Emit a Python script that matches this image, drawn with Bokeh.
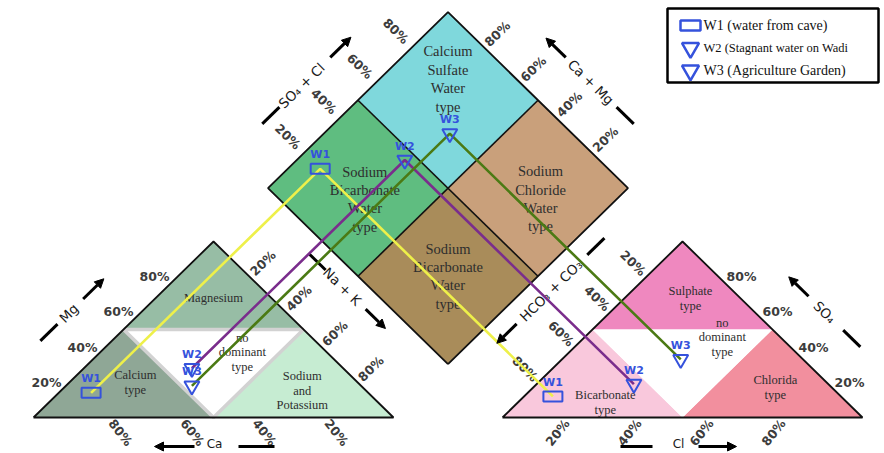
import math
from bokeh.plotting import figure
from bokeh.models import Range1d, Arrow, NormalHead, ColumnDataSource
from bokeh.core.properties import value
from bokeh.embed import file_html
from bokeh.resources import INLINE

# ---------------- data (percent of meq/L) ----------------
samples = ["W1", "W2", "W3"]
legend_text = ["W1 (water from cave)", "W2 (Stagnant water on Wadi", "W3 (Agriculture Garden)"]
sample_marker = ["rect", "inverted_triangle", "inverted_triangle"]
line_colors = ["#eef04a", "#7a2d8c", "#4b7a14"]

ca_pct = [77, 42, 47]
mg_pct = [14, 28, 18]
nak_pct = [9, 30, 35]
hco3_pct = [80, 54, 34]
so4_pct = [12, 19, 33]
cl_pct = [8, 27, 33]

tick_vals = [20, 40, 60, 80]
tick_labels = ["20%", "40%", "60%", "80%"]

cation_facies = ["Magnesium", "Calcium\ntype", "no\ndominant\ntype", "Sodium\nand\nPotassium"]
anion_facies = ["Sulphate\ntype", "no\ndominant\ntype", "Chlorida\ntype", "Bicarbonate\ntype"]
diamond_facies = ["Calcium\nSulfate\nWater\ntype", "Sodium\nBicarbonate\nWater\ntype",
                  "Sodium\nChloride\nWater\ntype", "Sodium\nBicarbonate\nWater\ntype"]

# ---------------- layout ----------------
X0L, X0R, BASE, W, H = 33.0, 502.0, 417.0, 360.0, 176.0
GAP = X0R - (X0L + W)
BX = X0L + W + GAP / 2
BY = BASE + H - (BX - X0L - W / 2) * H / (W / 2)
ANG = math.atan2(H, W / 2)

def cat_xy(c, m, n):
    t = c + m + n
    m, n = m / t, n / t
    return X0L + W * (n + m / 2), BASE - H * m

def an_xy(h, s, c):
    t = h + s + c
    s, c = s / t, c / t
    return X0R + W * (c + s / 2), BASE - H * s

def dia_xy(s, t):  # s = Ca+Mg fraction, t = SO4+Cl fraction
    return BX + (W / 2) * (t - s), BY - H * (s + t)

A_L, T_L, C_L = cat_xy(1, 0, 0), cat_xy(0, 1, 0), cat_xy(0, 0, 1)
A_R, T_R, C_R = an_xy(1, 0, 0), an_xy(0, 1, 0), an_xy(0, 0, 1)
D_B, D_L, D_T, D_R = dia_xy(0, 0), dia_xy(1, 0), dia_xy(1, 1), dia_xy(0, 1)

def edge_pt(P0, P1, f, dn):
    dx, dy = P1[0] - P0[0], P1[1] - P0[1]
    L = math.hypot(dx, dy)
    ux, uy = dx / L, dy / L
    return P0[0] + f * dx + dn * uy, P0[1] + f * dy - dn * ux

p = figure(width=884, height=453, x_range=Range1d(0, 884), y_range=Range1d(453, 0),
           output_backend="svg", toolbar_location=None, min_border=0)
p.axis.visible = False
p.grid.visible = False
p.outline_line_color = None
p.background_fill_color = "white"
p.border_fill_color = "white"

def patch(points, fn, color):
    xy = [fn(*q) for q in points]
    p.patch([a for a, b in xy], [b for a, b in xy], fill_color=color, line_color=None)

# cation triangle regions (Ca, Mg, Na)
patch([(0.5, 0.5, 0), (0, 1, 0), (0, 0.5, 0.5)], cat_xy, "#97bda5")
patch([(1, 0, 0), (0.5, 0, 0.5), (0.5, 0.5, 0)], cat_xy, "#8fa796")
patch([(0, 0, 1), (0, 0.5, 0.5), (0.5, 0, 0.5)], cat_xy, "#c6ecd2")
patch([(0.5, 0.5, 0), (0, 0.5, 0.5), (0.5, 0, 0.5)], cat_xy, "#ffffff")
mid = [cat_xy(*q) for q in [(0.5, 0.5, 0), (0, 0.5, 0.5), (0.5, 0, 0.5), (0.5, 0.5, 0)]]
p.line([a for a, b in mid], [b for a, b in mid], line_color="#d2d2d2", line_width=3.5)

# anion triangle regions (HCO3, SO4, Cl)
patch([(0.5, 0.5, 0), (0, 1, 0), (0, 0.5, 0.5)], an_xy, "#ef88bf")
patch([(1, 0, 0), (0.5, 0, 0.5), (0.5, 0.5, 0)], an_xy, "#f9c8dc")
patch([(0, 0, 1), (0, 0.5, 0.5), (0.5, 0, 0.5)], an_xy, "#f28f9e")
patch([(0.5, 0.5, 0), (0, 0.5, 0.5), (0.5, 0, 0.5)], an_xy, "#ffffff")

# diamond quadrants (s, t)
patch([(0.5, 0.5), (1, 0.5), (1, 1), (0.5, 1)], dia_xy, "#7fd8dc")
patch([(0.5, 0), (1, 0), (1, 0.5), (0.5, 0.5)], dia_xy, "#5fbd80")
patch([(0, 0.5), (0.5, 0.5), (0.5, 1), (0, 1)], dia_xy, "#c9a07b")
patch([(0, 0), (0.5, 0), (0.5, 0.5), (0, 0.5)], dia_xy, "#a98c5a")

# outlines
for pts in ([A_L, T_L, C_L, A_L], [A_R, T_R, C_R, A_R], [D_B, D_L, D_T, D_R, D_B]):
    p.line([a for a, b in pts], [b for a, b in pts], line_color="#111111", line_width=1.8)
for seg in ([dia_xy(0.5, 0), dia_xy(0.5, 1)], [dia_xy(0, 0.5), dia_xy(1, 0.5)]):
    p.line([a for a, b in seg], [b for a, b in seg], line_color="#111111", line_width=1.6)

# facies labels
serif = value("Liberation Serif")
cat_lab_pos = [(0.16, 0.68, 0.16), (0.617, 0.2, 0.183), (0.235, 0.37, 0.395), (0.177, 0.153, 0.67)]
an_lab_pos = [(0.14, 0.676, 0.184), (0.162, 0.455, 0.383), (0.157, 0.17, 0.673), (0.672, 0.085, 0.243)]
dia_lab_pos = [(0.81, 0.81), (0.70, 0.238), (0.213, 0.727), (0.25, 0.25)]
for labels, pos, fn, fs in ((cation_facies, cat_lab_pos, cat_xy, "12.5px"),
                            (anion_facies, an_lab_pos, an_xy, "12.5px"),
                            (diamond_facies, dia_lab_pos, dia_xy, "14.5px")):
    xy = [fn(*q) for q in pos]
    p.text([a for a, b in xy], [b for a, b in xy], text=labels, text_font=serif,
           text_font_size=fs, text_align="center", text_baseline="middle",
           text_line_height=1.05 if fs == "12.5px" else 1.15, text_color="#2e2e2e")

# tick labels
tx, ty, tt, ta, tal = [], [], [], [], []
for v, lab in zip(tick_vals, tick_labels):
    f = v / 100
    x, y = edge_pt(A_L, T_L, f, 0); tx.append(x - 8); ty.append(y); tt.append(lab); ta.append(0); tal.append("right")
    x, y = cat_xy(f, 0, 1 - f); tx.append(x + 15); ty.append(y + 15); tt.append(lab); ta.append(-0.9); tal.append("center")
    x, y = edge_pt(T_L, C_L, f, 19); tx.append(x); ty.append(y); tt.append(lab); ta.append(ANG); tal.append("center")
    x, y = an_xy(1 - f, 0, f); tx.append(x - 17); ty.append(y + 15); tt.append(lab); ta.append(0.9); tal.append("center")
    x, y = edge_pt(A_R, T_R, 1 - f, 19); tx.append(x); ty.append(y); tt.append(lab); ta.append(-ANG); tal.append("center")
    x, y = edge_pt(T_R, C_R, 1 - f, 0); tx.append(x + 8); ty.append(y); tt.append(lab); ta.append(0); tal.append("left")
    x, y = edge_pt(D_L, D_T, f, 23); tx.append(x); ty.append(y); tt.append(lab); ta.append(-ANG); tal.append("center")
    x, y = edge_pt(D_T, D_R, 1 - f, 19); tx.append(x); ty.append(y); tt.append(lab); ta.append(ANG); tal.append("center")
p.text(x="x", y="y", text="t", angle="a", text_align="al",
       source=ColumnDataSource(dict(x=tx, y=ty, t=tt, a=ta, al=tal)),
       text_font=value("DejaVu Sans"), text_font_style="bold", text_font_size="12.5px",
       text_baseline="middle", text_color="#3c3c3c")

# axis titles with dash and arrow
sans = value("DejaVu Sans")
def axis_title(P0, P1, label, f_t, f_dash, f_a0, f_a1, dn, ang):
    x, y = edge_pt(P0, P1, f_t, dn)
    p.text([x], [y], text=[label], angle=ang, text_font=sans, text_font_size="13.5px",
           text_align="center", text_baseline="middle", text_color="#1a1a1a")
    L = math.hypot(P1[0] - P0[0], P1[1] - P0[1])
    d = 12 / L
    a, b = edge_pt(P0, P1, f_dash - d, dn)
    c, e = edge_pt(P0, P1, f_dash + d, dn)
    p.line([a, c], [b, e], line_color="black", line_width=3)
    a, b = edge_pt(P0, P1, f_a0, dn)
    c, e = edge_pt(P0, P1, f_a1, dn)
    p.add_layout(Arrow(end=NormalHead(size=9, fill_color="black", line_color="black"),
                       x_start=a, y_start=b, x_end=c, y_end=e, line_width=3, line_color="black"))

axis_title(A_L, T_L, "Mg", 0.39, 0.28, 0.47, 0.585, 50, ANG)
axis_title(T_L, C_L, "Na + K", 0.49, 0.35, 0.62, 0.73, 58, -ANG)
axis_title(D_L, D_T, "SO\u2084 + Cl", 0.38, 0.21, 0.54, 0.655, 50, ANG)
axis_title(D_T, D_R, "Ca + Mg", 0.60, 0.79, 0.46, 0.35, 50, -ANG)
axis_title(A_R, T_R, "HCO\u2083 + CO\u2083", 0.49, 0.74, 0.30, 0.19, 57, ANG)
axis_title(T_R, C_R, "SO\u2084", 0.60, 0.75, 0.51, 0.40, 49, -ANG)

# bottom titles
for cx, label, dash, arr in ((X0L + W / 2 + 1, "Ca", (24, 60), (-20, -60)),
                             (X0R + W / 2 - 4, "Cl", (-58, -26), (20, 58))):
    yb = BASE + 26
    p.text([cx], [yb], text=[label], text_font=sans, text_font_size="12px",
           text_align="center", text_baseline="middle", text_color="#1a1a1a")
    p.line([cx + dash[0], cx + dash[1]], [yb + 3, yb + 3], line_color="black", line_width=3)
    p.add_layout(Arrow(end=NormalHead(size=9, fill_color="black", line_color="black"),
                       x_start=cx + arr[0], y_start=yb + 3, x_end=cx + arr[1], y_end=yb + 3,
                       line_width=3, line_color="black"))

# projection lines and sample points
blue = "#3552dc"
pts = []
for i in range(len(samples)):
    c = cat_xy(ca_pct[i], mg_pct[i], nak_pct[i])
    a = an_xy(hco3_pct[i], so4_pct[i], cl_pct[i])
    tot_c = ca_pct[i] + mg_pct[i] + nak_pct[i]
    tot_a = hco3_pct[i] + so4_pct[i] + cl_pct[i]
    d = dia_xy((ca_pct[i] + mg_pct[i]) / tot_c, (so4_pct[i] + cl_pct[i]) / tot_a)
    p.line([c[0], d[0], a[0]], [c[1], d[1], a[1]], line_color=line_colors[i], line_width=2.6)
    pts.append((c, d, a))

for i, (c, d, a) in enumerate(pts):
    xs = [c[0], d[0], a[0]]
    ys = [c[1], d[1], a[1]]
    if sample_marker[i] == "rect":
        p.rect(xs, ys, width=19, height=10, width_units="screen", height_units="screen",
               fill_alpha=0, line_color=blue, line_width=2)
    else:
        p.scatter(xs, ys, marker=sample_marker[i], size=15, fill_alpha=0,
                  line_color=blue, line_width=2)
    p.text(xs, [y - 14 for y in ys], text=[samples[i]] * 3, text_font=sans,
           text_font_style="bold", text_font_size="11px", text_align="center",
           text_baseline="middle", text_color=blue)

# legend
p.quad(left=[667], right=[878], top=[8], bottom=[82], fill_color="white",
       line_color="black", line_width=2.5)
for i in range(len(samples)):
    ly = 25 + 22.5 * i
    if sample_marker[i] == "rect":
        p.rect([690], [ly], width=20, height=10, width_units="screen", height_units="screen",
               fill_alpha=0, line_color=blue, line_width=2.5)
    else:
        p.scatter([690], [ly], marker=sample_marker[i], size=17, fill_alpha=0,
                  line_color=blue, line_width=2.5)
    p.text([703], [ly], text=[legend_text[i]], text_font=serif,
           text_font_size="12.5px" if i == 1 else "14px", text_align="left",
           text_baseline="middle", text_color="#111111")

open("out.html", "w").write(file_html(p, INLINE))
